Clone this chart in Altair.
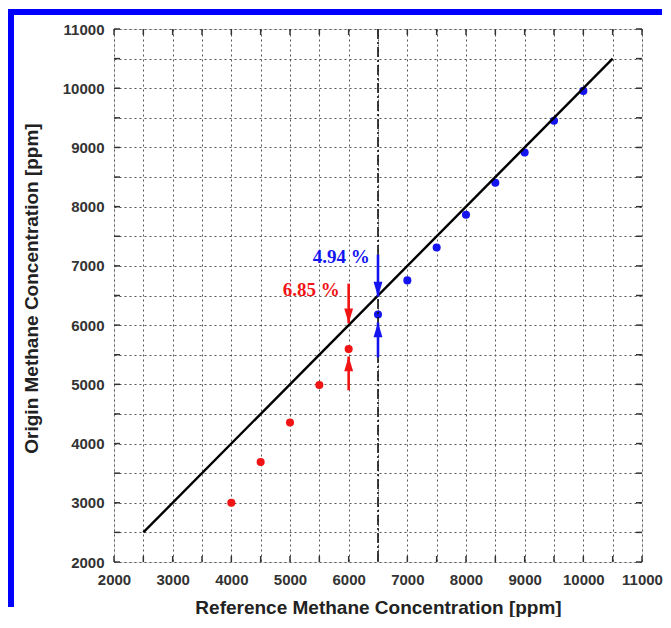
import altair as alt
import pandas as pd

# ---- data ----
ref_red = [4000, 4500, 5000, 5500, 6000]
orig_red = [3000, 3690, 4355, 4990, 5595]
ref_blue = [6500, 7000, 7500, 8000, 8500, 9000, 9500, 10000]
orig_blue = [6180, 6755, 7310, 7865, 8405, 8915, 9450, 9955]
fit_x = [2500, 10500]
fit_y = [2500, 10500]
vline_x = [6500]
tick_vals = list(range(2000, 11001, 500))
arrow_x = [6000, 6000, 6500, 6500]
arrow_from = [6700, 4900, 7190, 5455]
arrow_to = [6030, 5470, 6480, 6045]
arrow_dir = ["down", "up", "down", "up"]
arrow_grp = ["red", "red", "blue", "blue"]
label_text = ["6.85 %", "4.94 %"]
label_x = [5850, 6360]
label_y = [6590, 7150]
label_grp = ["red", "blue"]

RED = "#f01414"
BLUE = "#1414f0"
W, H = 528, 533

xs = alt.Scale(domain=[2000, 11000], nice=False, zero=False)
ys = alt.Scale(domain=[2000, 11000], nice=False, zero=False)
col = alt.Scale(domain=["red", "blue"], range=[RED, BLUE])

lab_expr = "datum.value % 1000 == 0 ? datum.label : ''"
x_axis = alt.Axis(values=tick_vals, format="d", labelExpr=lab_expr, labelOverlap=False,
                  labelFlush=False, ticks=False, domain=False, grid=True,
                  gridDash=[2, 3], gridColor="#555", gridWidth=1,
                  labelFont="Liberation Sans", labelFontWeight="bold", labelFontSize=15,
                  labelColor="#333", labelPadding=10,
                  title="Reference Methane Concentration [ppm]", titleFont="Liberation Sans",
                  titleFontWeight="bold", titleFontSize=19, titleColor="#222",
                  titleY=45, titleBaseline="middle")
y_axis = alt.Axis(values=tick_vals, format="d", labelExpr=lab_expr, labelOverlap=False,
                  labelFlush=False, ticks=False, domain=False, grid=True,
                  gridDash=[2, 3], gridColor="#555", gridWidth=1,
                  labelFont="Liberation Sans", labelFontWeight="bold", labelFontSize=15,
                  labelColor="#333", labelPadding=10,
                  title="Origin Methane Concentration [ppm]", titleFont="Liberation Sans",
                  titleFontWeight="bold", titleFontSize=19, titleColor="#222",
                  titleX=-83, titleY=259, titleBaseline="middle")

pts = pd.DataFrame({
    "ref": ref_red + ref_blue,
    "orig": orig_red + orig_blue,
    "grp": ["red"] * len(ref_red) + ["blue"] * len(ref_blue),
})
fit = pd.DataFrame({"x": fit_x, "y": fit_y})
vl = pd.DataFrame({"x": vline_x})
ticks = pd.DataFrame({"v": tick_vals})
arrows = pd.DataFrame({"x": arrow_x, "y0": arrow_from, "y1": arrow_to,
                       "dir": arrow_dir, "grp": arrow_grp})
labs = pd.DataFrame({"t": label_text, "x": label_x, "y": label_y, "grp": label_grp})
one = pd.DataFrame({"a": [0]})


def X(f):
    return alt.X(f, scale=xs, axis=x_axis)


def Y(f):
    return alt.Y(f, scale=ys, axis=y_axis)


points = alt.Chart(pts).mark_circle(size=65, opacity=1).encode(
    x=X("ref:Q"), y=Y("orig:Q"),
    color=alt.Color("grp:N", scale=col, legend=None),
)

fit_line = alt.Chart(fit).mark_line(color="black", strokeWidth=2.4).encode(
    x=X("x:Q"), y=Y("y:Q"),
)

vline = alt.Chart(vl).mark_rule(color="#111", strokeWidth=1.6, strokeDash=[10, 3, 2, 3]).encode(
    x=X("x:Q"),
)

tk = 6
t_bottom = alt.Chart(ticks).mark_rule(color="#333", strokeWidth=1.5).encode(
    x=X("v:Q"), y=alt.value(H), y2=alt.value(H - tk))
t_top = alt.Chart(ticks).mark_rule(color="#333", strokeWidth=1.5).encode(
    x=X("v:Q"), y=alt.value(0), y2=alt.value(tk))
t_left = alt.Chart(ticks).mark_rule(color="#333", strokeWidth=1.5).encode(
    y=Y("v:Q"), x=alt.value(0), x2=alt.value(tk))
t_right = alt.Chart(ticks).mark_rule(color="#333", strokeWidth=1.5).encode(
    y=Y("v:Q"), x=alt.value(W), x2=alt.value(W - tk))

shafts = alt.Chart(arrows).mark_rule(strokeWidth=2.6).encode(
    x=X("x:Q"), y=Y("y0:Q"), y2="y1:Q",
    color=alt.Color("grp:N", scale=col, legend=None),
)
head_down = "M0,0L-0.6,-2L0.6,-2Z"
head_up = "M0,0L-0.6,2L0.6,2Z"
heads = alt.Chart(arrows).mark_point(filled=True, size=220, opacity=1, strokeWidth=0).encode(
    x=X("x:Q"), y=Y("y1:Q"),
    shape=alt.Shape("dir:N", scale=alt.Scale(domain=["down", "up"], range=[head_down, head_up]),
                    legend=None),
    color=alt.Color("grp:N", scale=col, legend=None),
)

texts = alt.Chart(labs).mark_text(font="Liberation Serif", fontWeight="bold", fontSize=19,
                                  align="right", baseline="middle").encode(
    x=X("x:Q"), y=Y("y:Q"), text="t:N",
    color=alt.Color("grp:N", scale=col, legend=None),
)

# decorative blue frame of the original figure
frame_left = alt.Chart(one).mark_rect(color="#0000ff").encode(
    x=alt.value(-106), x2=alt.value(-100), y=alt.value(-20), y2=alt.value(578))
frame_top = alt.Chart(one).mark_rect(color="#0000ff").encode(
    x=alt.value(-106), x2=alt.value(548), y=alt.value(-20), y2=alt.value(-14))

chart = alt.layer(
    points, fit_line, vline, t_bottom, t_top, t_left, t_right,
    shafts, heads, texts, frame_left, frame_top,
).properties(
    width=W, height=H,
    padding={"left": 0, "top": 1, "right": 0, "bottom": 0},
).configure_view(
    stroke="#333", strokeWidth=2,
).configure(background="white")

chart.save("out.html", embed_options={"renderer": "svg", "actions": False})
